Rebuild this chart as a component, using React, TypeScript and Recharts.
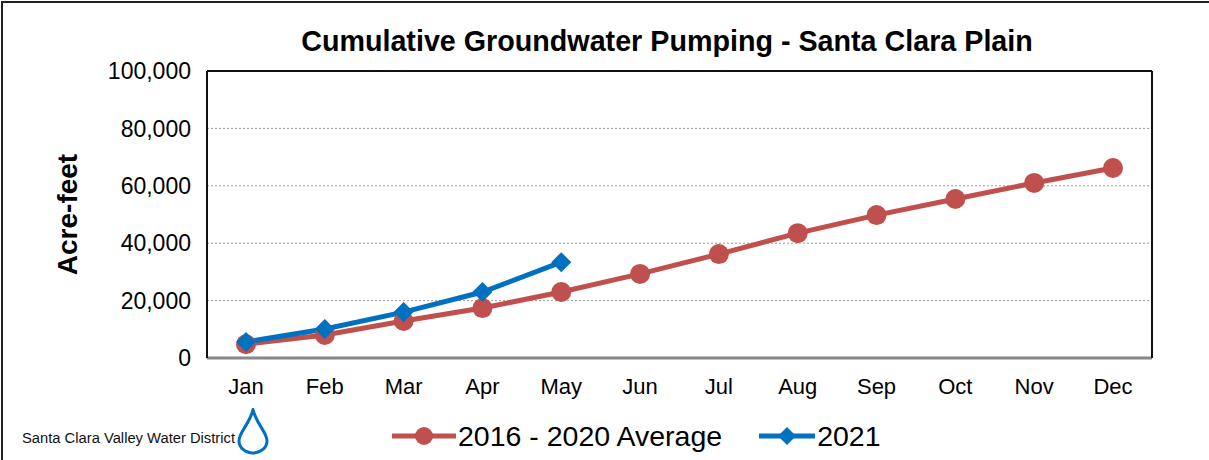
import React from 'react'
import {
  LineChart,
  Line,
  XAxis,
  YAxis,
  CartesianGrid,
  Legend,
} from 'recharts'

const months = ['Jan', 'Feb', 'Mar', 'Apr', 'May', 'Jun', 'Jul', 'Aug', 'Sep', 'Oct', 'Nov', 'Dec']
const average2016to2020 = [4800, 8000, 12900, 17400, 23000, 29300, 36200, 43500, 49800, 55400, 61000, 66200]
const pumping2021 = [5600, 10100, 16000, 23000, 33400]
const yTicks = [0, 20000, 40000, 60000, 80000, 100000]

const RED = '#C0504D'
const BLUE = '#0070C0'
const FONT = '"Liberation Sans", Arial, sans-serif'

const data = months.map((month, i) => ({
  month,
  average: average2016to2020[i],
  y2021: i < pumping2021.length ? pumping2021[i] : null,
}))

const Diamond = (props: any) => {
  const { cx, cy } = props
  if (cx == null || cy == null) return null
  const s = 10
  return (
    <polygon
      points={`${cx},${cy - s} ${cx + s},${cy} ${cx},${cy + s} ${cx - s},${cy}`}
      fill={BLUE}
    />
  )
}

const LegendContent = () => (
  <div
    style={{
      display: 'flex',
      alignItems: 'center',
      height: 40,
      paddingLeft: 392,
      fontFamily: FONT,
      fontSize: 28.5,
      color: '#000',
    }}
  >
    <svg width={64} height={24}>
      <line x1={0} y1={12} x2={64} y2={12} stroke={RED} strokeWidth={5} />
      <circle cx={32} cy={12} r={9} fill={RED} />
    </svg>
    <span style={{ marginLeft: 2 }}>2016 - 2020 Average</span>
    <svg width={56} height={24} style={{ marginLeft: 37 }}>
      <line x1={0} y1={12} x2={56} y2={12} stroke={BLUE} strokeWidth={5} />
      <polygon points="28,3 37,12 28,21 19,12" fill={BLUE} />
    </svg>
    <span style={{ marginLeft: 2 }}>2021</span>
  </div>
)

const YLabel = (props: any) => {
  const { viewBox } = props
  const cy = viewBox.y + viewBox.height / 2
  return (
    <text
      x={77}
      y={cy}
      transform={`rotate(-90 77 ${cy})`}
      textAnchor="middle"
      fontFamily={FONT}
      fontWeight="bold"
      fontSize={28}
      fill="#000"
    >
      Acre-feet
    </text>
  )
}

export default function App() {
  return (
    <div
      style={{
        position: 'absolute',
        top: 0,
        left: 0,
        width: 1209,
        height: 460,
        background: '#fff',
        overflow: 'hidden',
      }}
    >
      <div
        style={{
          position: 'absolute',
          top: 1,
          left: 1,
          width: 1208,
          height: 459,
          borderTop: '2px solid #222',
          borderLeft: '2px solid #222',
        }}
      />
      <div
        style={{
          position: 'absolute',
          top: 24,
          left: 667,
          transform: 'translateX(-50%)',
          whiteSpace: 'nowrap',
          fontFamily: FONT,
          fontWeight: 'bold',
          fontSize: 28.7,
          lineHeight: '34px',
          color: '#000',
        }}
      >
        Cumulative Groundwater Pumping - Santa Clara Plain
      </div>

      <LineChart
        width={1209}
        height={460}
        data={data}
        margin={{ top: 70, right: 56, bottom: 12, left: 0 }}
      >
        <CartesianGrid
          vertical={false}
          stroke="#999"
          strokeDasharray="2 2"
          xAxisId="main"
          yAxisId="left"
        />
        <XAxis
          xAxisId="main"
          dataKey="month"
          height={50}
          padding={{ left: 39, right: 39 }}
          tickLine={false}
          tickSize={0}
          tickMargin={20}
          axisLine={{ stroke: '#888', strokeWidth: 3 }}
          tick={{ fill: '#000', fontSize: 22, fontFamily: FONT }}
        />
        <XAxis
          xAxisId="top"
          orientation="top"
          dataKey="month"
          height={1}
          tick={false}
          tickLine={false}
          axisLine={{ stroke: '#111', strokeWidth: 2 }}
        />
        <YAxis
          yAxisId="left"
          width={207}
          domain={[0, 100000]}
          ticks={yTicks}
          tickFormatter={(v: number) => v.toLocaleString('en-US')}
          tickLine={false}
          tickSize={0}
          tickMargin={16}
          axisLine={{ stroke: '#111', strokeWidth: 2 }}
          tick={{ fill: '#000', fontSize: 23, fontFamily: FONT }}
          label={<YLabel />}
        />
        <YAxis
          yAxisId="right"
          orientation="right"
          width={1}
          tick={false}
          tickLine={false}
          axisLine={{ stroke: '#111', strokeWidth: 2 }}
        />
        <Legend
          verticalAlign="bottom"
          content={<LegendContent />}
          wrapperStyle={{ left: 0, width: 1209, bottom: 4 }}
        />
        <Line
          xAxisId="main"
          yAxisId="left"
          type="linear"
          dataKey="average"
          name="2016 - 2020 Average"
          stroke={RED}
          strokeWidth={5}
          dot={{ r: 10, fill: RED, stroke: 'none' }}
          isAnimationActive={false}
        />
        <Line
          xAxisId="main"
          yAxisId="left"
          type="linear"
          dataKey="y2021"
          name="2021"
          stroke={BLUE}
          strokeWidth={5}
          dot={<Diamond />}
          isAnimationActive={false}
        />
      </LineChart>

      <svg
        width={280}
        height={50}
        style={{ position: 'absolute', left: 0, top: 408 }}
      >
        <text
          x={22}
          y={35}
          fontFamily={FONT}
          fontSize={14}
          fill="#111"
          textLength={213}
          lengthAdjust="spacingAndGlyphs"
        >
          Santa Clara Valley Water District
        </text>
        <path
          d="M253 2 C 249 17, 239 24, 239 33 A 14 12 0 0 0 267 33 C 267 24, 257 17, 253 2 Z"
          fill="none"
          stroke={BLUE}
          strokeWidth={3}
        />
      </svg>
    </div>
  )
}
